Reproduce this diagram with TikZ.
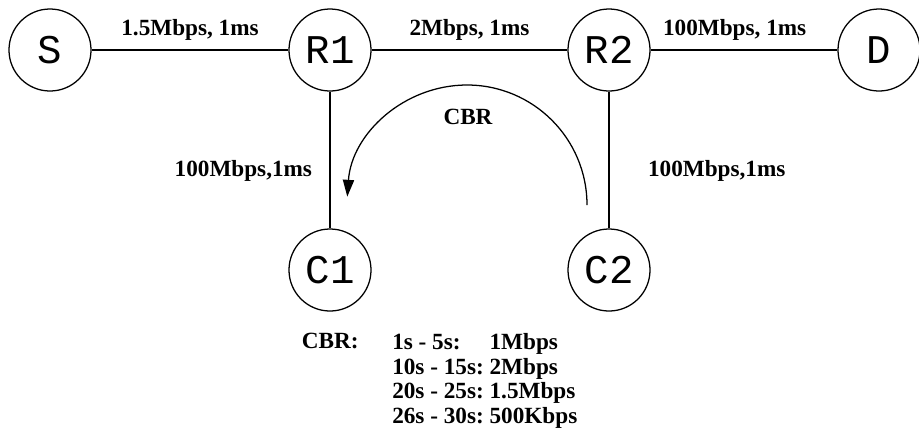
\documentclass[tikz,border=0pt]{standalone}
\usepackage{fontspec}
\setmainfont{Liberation Serif}
\newfontfamily\hostfont{Liberation Mono}
\usetikzlibrary{arrows.meta, positioning}

\begin{document}
\begin{tikzpicture}[
x=0.025cm, y=-0.025cm,
host/.style={draw, circle, line width=0.9pt, minimum size=2.05cm, inner sep=0pt, font=\hostfont\fontsize{29}{29}\selectfont},
link/.style={line width=0.9pt},
lbl/.style={font=\bfseries\fontsize{16.5}{17.5}\selectfont},
arrow/.style={-{Triangle[length=4.2mm, width=2.8mm]}, line width=0.9pt}
]
\useasboundingbox (0,0) rectangle (919,430);

\node[host] (S) at (50,50) {S};
\node[host] (R1) at (330,50) {R1};
\node[host] (R2) at (609,50) {R2};
\node[host] (D) at (879,50) {D};
\node[host] (C1) at (330,270) {C1};
\node[host] (C2) at (609,270) {C2};

\draw[link] (S) -- node[lbl, above=3pt] {1.5Mbps, 1ms} (R1);
\draw[link] (R1) -- node[lbl, above=3pt] {2Mbps, 1ms} (R2);
\draw[link] (R2) -- node[lbl, above=3pt, pos=0.45] {100Mbps, 1ms} (D);
\draw[link] (R1) -- node[lbl, left=9pt, pos=0.58] {100Mbps,1ms} (C1);
\draw[link] (R2) -- node[lbl, right=24pt, pos=0.58] {100Mbps,1ms} (C2);

% CBR flow from C2 to C1
\coordinate (flow) at (587,205);
\draw[arrow] (flow) arc[start angle=0, end angle=-176, radius=120];
\node[lbl] (cbr) at (468,117) {CBR};

\node[lbl, anchor=base west] (cbrkey) at (297,348) {CBR:};
\node[lbl, anchor=north west, inner sep=0pt, align=left] (rates) at (392,332) {%
\begin{tabular}{@{}l@{\ }l@{}}
1s - 5s: & 1Mbps\\
10s - 15s: & 2Mbps\\
20s - 25s: & 1.5Mbps\\
26s - 30s: & 500Kbps
\end{tabular}};

\end{tikzpicture}
\end{document}
